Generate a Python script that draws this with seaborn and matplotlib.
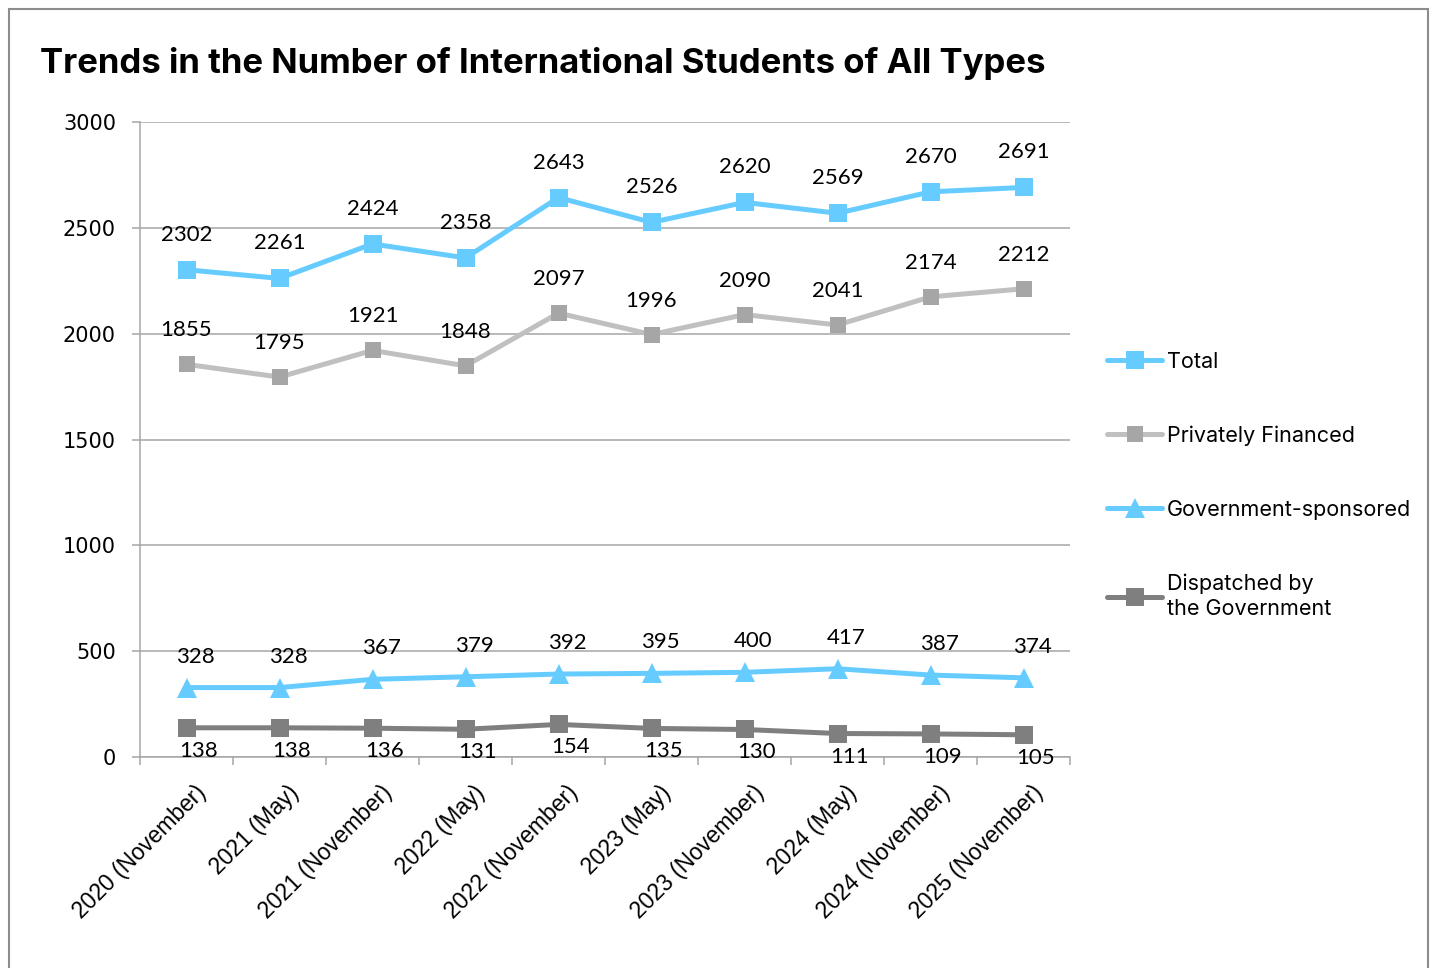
import numpy as np
import pandas as pd
import seaborn as sns
import matplotlib.pyplot as plt
from matplotlib.patches import Rectangle
from matplotlib.transforms import ScaledTranslation

# chart data
TITLE = 'Trends in the Number of International Students of All Types'
PERIODS = ['2020 (November)', '2021 (May)', '2021 (November)', '2022 (May)',
           '2022 (November)', '2023 (May)', '2023 (November)', '2024 (May)',
           '2024 (November)', '2025 (November)']
SERIES_NAMES = ['Total', 'Privately Financed', 'Government-sponsored',
                'Dispatched by\nthe Government']
TOTAL = [2302, 2261, 2424, 2358, 2643, 2526, 2620, 2569, 2670, 2691]
PRIVATE = [1855, 1795, 1921, 1848, 2097, 1996, 2090, 2041, 2174, 2212]
GOV_SPONSORED = [328, 328, 367, 379, 392, 395, 400, 417, 387, 374]
DISPATCHED = [138, 138, 136, 131, 154, 135, 130, 111, 109, 105]
Y_TICKS = [0, 500, 1000, 1500, 2000, 2500, 3000]

W, H = 1437, 968
BLUE = '#66CCFF'
GRID = '#A6A6A6'


def plot_trends(out_path):
    '''
    Line chart of the four student categories with value labels.
    '''
    sns.set_theme(style='white')
    plt.rcParams['font.family'] = ['DejaVu Sans']

    fig = plt.figure(figsize=(W / 100, H / 100), dpi=100)
    ax = fig.add_axes([140 / W, 1 - 757 / H, 930 / W, 635 / H])

    x = np.arange(len(PERIODS))
    df = pd.DataFrame({'idx': x, 'period': PERIODS})

    # line colour, marker, marker colour, marker size, label offset (px)
    styles = [
        (BLUE, 's', BLUE, 13, 0, 35),
        ('#C0C0C0', 's', '#A6A6A6', 11.5, 0, 34),
        (BLUE, '^', BLUE, 14, 9, 31),
        ('#7F7F7F', 's', '#7F7F7F', 13, 12, -23),
    ]
    for name, vals, st in zip(SERIES_NAMES, [TOTAL, PRIVATE, GOV_SPONSORED, DISPATCHED], styles):
        line_c, mk, mk_c, ms, dx, dy = st
        df[name] = vals
        sns.lineplot(data=df, x='idx', y=name, ax=ax, sort=False, color=line_c,
                     linewidth=3.6, marker=mk, markersize=ms, markerfacecolor=mk_c,
                     markeredgecolor=mk_c, markeredgewidth=0, label=name)
        for xi, v in zip(x, vals):
            ax.annotate(str(v), (xi, v), xytext=(dx, dy), textcoords='offset pixels',
                        ha='center', va='center', fontsize=16, family='Lato',
                        color='black')

    # axes
    ax.set_xlim(-0.5, len(PERIODS) - 0.5)
    ax.set_ylim(0, 3000)
    ax.set_yticks(Y_TICKS)
    ax.set_yticklabels([str(t) for t in Y_TICKS])
    ax.set_xticks(x)
    ax.set_xticks(np.arange(len(PERIODS) + 1) - 0.5, minor=True)
    ax.set_xlabel('')
    ax.set_ylabel('')
    ax.yaxis.grid(True, color=GRID, linewidth=1.1)
    ax.xaxis.grid(False)
    ax.set_axisbelow(True)
    for side in ['top', 'right']:
        ax.spines[side].set_visible(False)
    for side in ['left', 'bottom']:
        ax.spines[side].set_color(GRID)
        ax.spines[side].set_linewidth(1.1)

    ax.tick_params(axis='y', which='major', left=True, length=5.8, width=1.1,
                   color=GRID, pad=11.5, labelsize=15, labelcolor='black')
    ax.tick_params(axis='x', which='major', bottom=True, length=0, pad=23)
    ax.tick_params(axis='x', which='minor', bottom=True, length=5.8, width=1.1,
                   color=GRID)
    ax.set_xticklabels(PERIODS, rotation=45, ha='right', va='center',
                       rotation_mode='anchor', fontsize=16.5,
                       family='Liberation Sans', color='black')
    shift = ScaledTranslation(16 / 100, 0, fig.dpi_scale_trans)
    for lbl in ax.get_xticklabels():
        lbl.set_transform(lbl.get_transform() + shift)

    # legend
    leg = ax.legend(loc='center left', bbox_to_anchor=(1.031, 0.428), frameon=False,
                    prop={'family': 'Inter', 'size': 15.5}, handlelength=2.55,
                    handletextpad=0.2, labelspacing=2.5, borderaxespad=0)
    for t in leg.get_texts():
        t.set_color('black')
        t.set_linespacing(1.3)

    # title and outer border
    fig.text(40 / W, 1 - 63 / H, TITLE, fontsize=25, fontweight='bold',
             family='Inter', va='center', ha='left', color='black')
    fig.patches.append(Rectangle((9 / W, -0.05), (1428 - 9) / W, 1.05 - 9 / H,
                                 transform=fig.transFigure, fill=False,
                                 edgecolor='#8C8C8C', linewidth=1.5))

    fig.savefig(out_path, dpi=100)
    plt.close(fig)


if __name__ == '__main__':
    plot_trends('out.png')
